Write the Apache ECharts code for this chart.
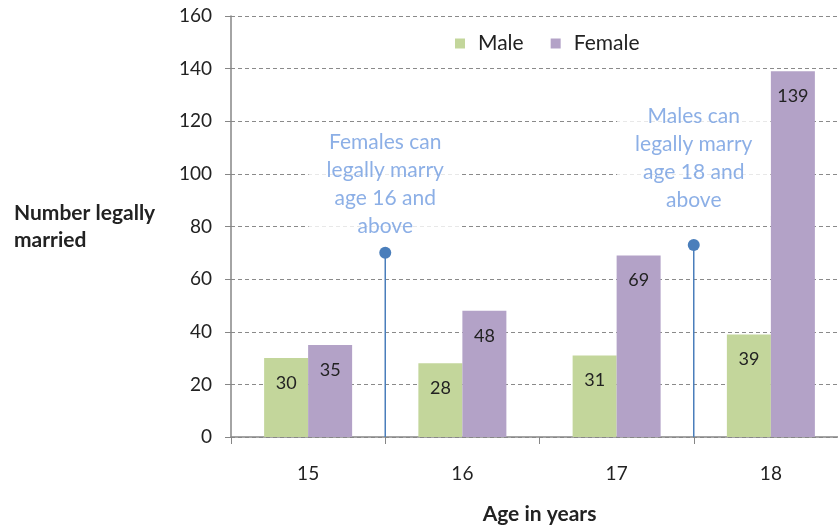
<!DOCTYPE html>
<html>
<head>
<meta charset="utf-8">
<script src="https://cdn.jsdelivr.net/npm/echarts@6/dist/echarts.min.js"></script>
<style>html,body{margin:0;padding:0;background:#fff}#chart{width:838px;height:529px}</style>
</head>
<body>
<div id="chart"></div>
<script>
const categories = ['15', '16', '17', '18'];
const maleValues = [30, 28, 31, 39];
const femaleValues = [35, 48, 69, 139];
const seriesNames = ['Male', 'Female'];
const yAxisName = 'Number legally\nmarried';
const xAxisName = 'Age in years';
const annotationX = [0.5, 2.5];
const annotationHeights = [70, 73];
const annotationTextY = [96, 106];
const annotationTexts = ['Females can\nlegally marry\nage 16 and\nabove', 'Males can\nlegally marry\nage 18 and\nabove'];

const FONT = 'Lato';
const chart = echarts.init(document.getElementById('chart'));
const annotSeries = [];
annotationX.forEach((x, i) => {
  annotSeries.push({
    type: 'line', xAxisIndex: 1, yAxisIndex: 0, silent: true,
    data: [{value: [x, 0], symbol: 'none'}, {value: [x, annotationHeights[i]]}],
    symbol: 'circle', symbolSize: 12, showSymbol: true,
    lineStyle: {color: '#4a7ebb', width: 1.5},
    itemStyle: {color: '#4a7ebb'},
    z: 5
  });
  annotSeries.push({
    type: 'scatter', xAxisIndex: 1, yAxisIndex: 0, silent: true,
    symbolSize: 0,
    data: [[x, annotationTextY[i]]],
    label: {
      show: true, position: 'inside', formatter: annotationTexts[i],
      color: '#6f9be0', fontFamily: FONT, fontSize: 21, lineHeight: 28,
      align: 'center', verticalAlign: 'middle',
      backgroundColor: '#fff', padding: [2, 18]
    },
    z: 4
  });
});

chart.setOption({
  animation: false,
  textStyle: {fontFamily: FONT},
  legend: {
    data: seriesNames, top: 28, left: 450, icon: 'rect', itemWidth: 10, itemHeight: 10, itemGap: 27,
    textStyle: {fontSize: 21, color: '#222', fontFamily: FONT, padding: [0, 0, 0, 8]}
  },
  grid: {left: 231, top: 16, width: 617, bottom: 92, outerBoundsMode: 'none', containLabel: false},
  xAxis: [{
    type: 'category', data: categories,
    name: xAxisName, nameLocation: 'middle', nameGap: 67,
    nameTextStyle: {fontSize: 21, fontWeight: 'bold', color: '#222', fontFamily: FONT},
    axisLine: {lineStyle: {color: '#868686', width: 1.5}},
    axisTick: {show: true, length: 7, interval: 0, lineStyle: {color: '#868686'}},
    axisLabel: {fontSize: 19, color: '#222', margin: 27, fontFamily: FONT}
  }, {
    type: 'value', show: false, min: -0.5, max: 3.5
  }],
  yAxis: {
    type: 'value', min: 0, max: 160, interval: 20,
    axisLine: {show: true, onZero: false, lineStyle: {color: '#868686', width: 1.5}},
    axisTick: {show: true, length: 6, lineStyle: {color: '#868686'}},
    axisLabel: {fontSize: 19, color: '#222', margin: 19, fontFamily: FONT},
    splitLine: {lineStyle: {color: '#8a8a8a', type: [4, 3], width: 1}}
  },
  graphic: [{
    type: 'text', left: 14, top: 200,
    style: {text: yAxisName, font: 'bold 21px ' + FONT, fill: '#222', align: 'center', lineHeight: 27, width: 145},
  }],
  series: [{
    name: seriesNames[0], type: 'bar', data: maleValues, barWidth: 44, barGap: '0%',
    itemStyle: {color: '#c3d69b'},
    label: {show: true, position: 'insideTop', distance: 16, fontSize: 18, color: '#222', fontFamily: FONT}
  }, {
    name: seriesNames[1], type: 'bar', data: femaleValues, barWidth: 44, barGap: '0%',
    itemStyle: {color: '#b3a2c7'},
    label: {show: true, position: 'insideTop', distance: 16, fontSize: 18, color: '#222', fontFamily: FONT}
  }].concat(annotSeries)
});
</script>
</body>
</html>
